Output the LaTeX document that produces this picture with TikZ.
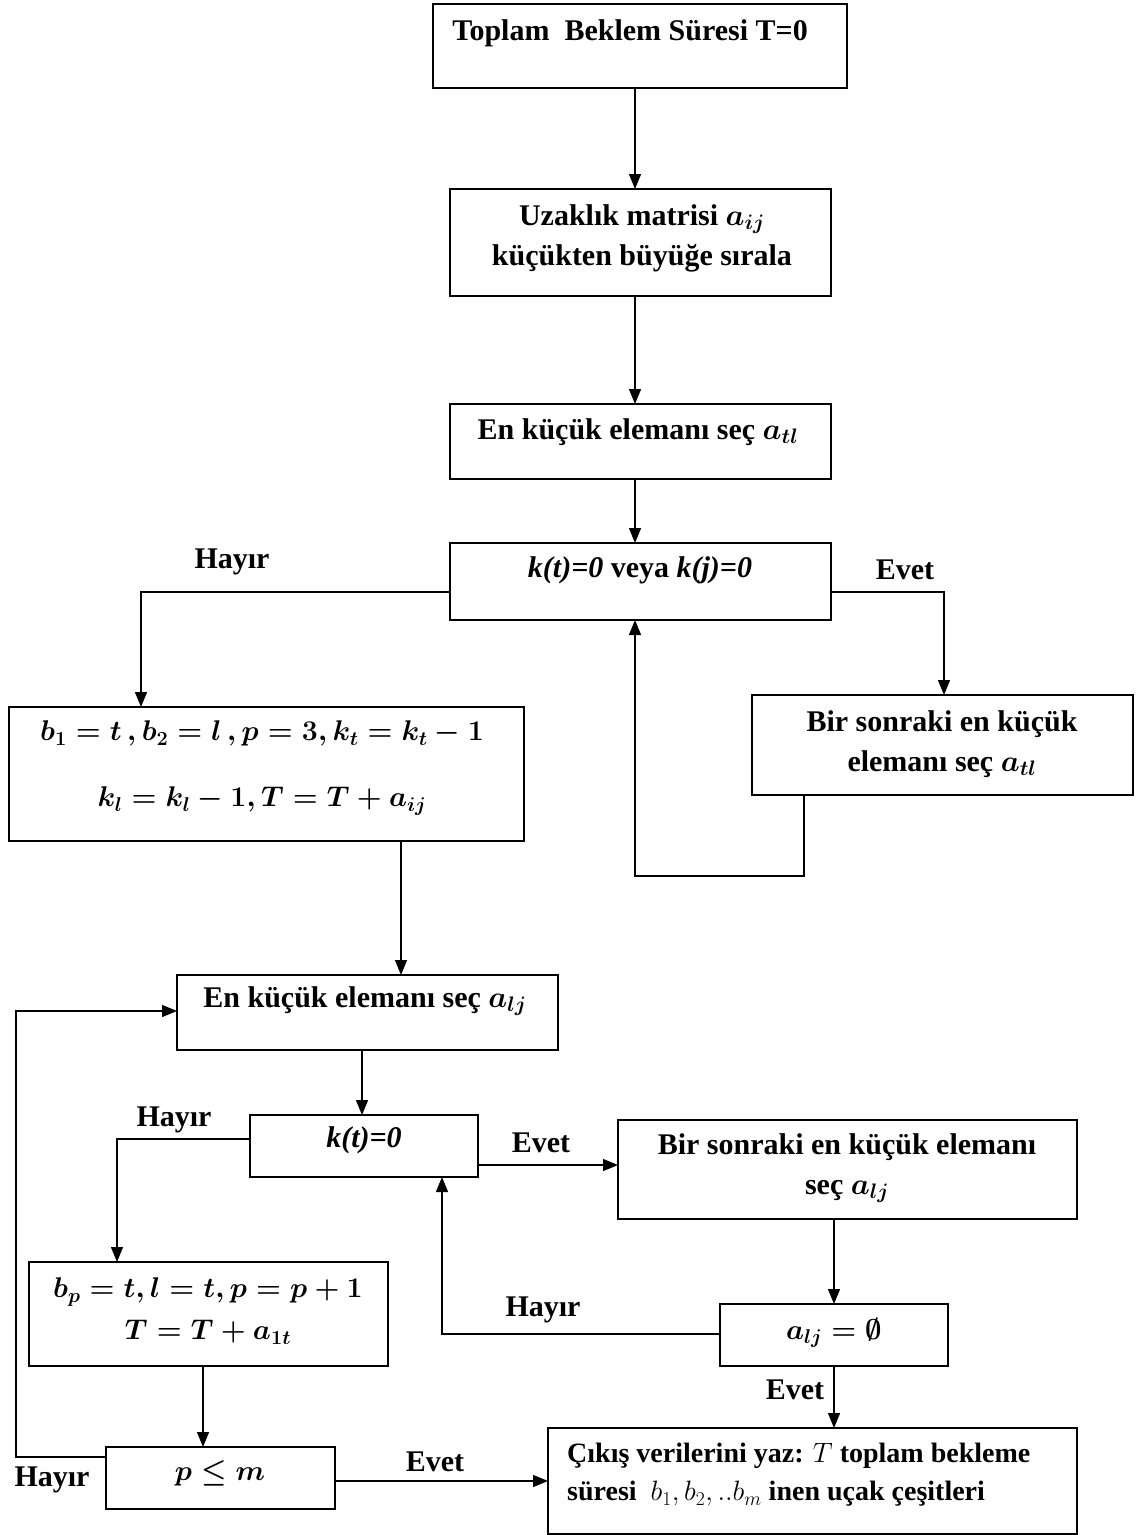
\RequirePackage{fix-cm}
\documentclass[tikz,border=0pt]{standalone}
\usepackage{amsmath}
\usepackage[no-math]{fontspec}
\setmainfont{Liberation Serif}
\usetikzlibrary{arrows.meta}
\begin{document}
\begin{tikzpicture}[x=1pt,y=-1pt,
 box/.style={draw, line width=1.3pt, inner sep=0pt, outer sep=0pt},
 txt/.style={inner sep=0pt, align=center, font=\fontsize{30}{40}\selectfont\bfseries\boldmath},
 mtxt/.style={inner sep=0pt, align=center, font=\fontsize{28.5}{42}\selectfont\bfseries\boldmath},
 otxt/.style={inner sep=0pt, align=left, font=\fontsize{28}{38}\selectfont\bfseries\boldmath},
 lbl/.style={inner sep=0pt, font=\fontsize{30}{34}\selectfont\bfseries},
 conn/.style={line width=1.3pt},
 arr/.style={conn, -{Triangle[length=15pt,width=12pt]}}
]
\useasboundingbox (0,0) rectangle (1145,1535);
% boxes
\node[box, minimum width=414pt, minimum height=84pt] (b1) at (640,46) {};
\node[box, minimum width=381pt, minimum height=107pt] (b2) at (640.5,242.5) {};
\node[box, minimum width=381pt, minimum height=75pt] (b3) at (640.5,441.5) {};
\node[box, minimum width=381pt, minimum height=77pt] (d1) at (640.5,581.5) {};
\node[box, minimum width=515pt, minimum height=134pt] (b5) at (266.5,774) {};
\node[box, minimum width=381pt, minimum height=100pt] (b6) at (942.5,745) {};
\node[box, minimum width=381pt, minimum height=75pt] (b7) at (367.5,1012.5) {};
\node[box, minimum width=228pt, minimum height=62pt] (d2) at (364,1146) {};
\node[box, minimum width=459pt, minimum height=99pt] (b9) at (847.5,1169.5) {};
\node[box, minimum width=359pt, minimum height=104pt] (b10) at (208.5,1314) {};
\node[box, minimum width=228pt, minimum height=62pt] (d3) at (834,1335) {};
\node[box, minimum width=229pt, minimum height=62pt] (d4) at (220.5,1478) {};
\node[box, minimum width=529pt, minimum height=106pt] (b13) at (812.5,1481) {};
% texts
\node[txt] (t1) at (630,33) {Toplam\hspace{0.5em}Beklem Süresi T=0};
\node[txt] (t2) at (642,238) {Uzaklık matrisi $a_{ij}$\\küçükten büyüğe sırala};
\node[txt] (t3) at (638,432) {En küçük elemanı seç $a_{tl}$};
\node[txt] (t4) at (640,570) {\textit{k(t)=0} veya \textit{k(j)=0}};
\node[mtxt] (t5) at (262,768) {$b_1 = t\,, b_2 = l\,, p = 3, k_t = k_t - 1$\\[24pt]$k_l = k_l - 1, T = T + a_{ij}$};
\node[txt] (t6) at (942,744) {Bir sonraki en küçük\\elemanı seç $a_{tl}$};
\node[txt] (t7) at (365,1001) {En küçük elemanı seç $a_{lj}$};
\node[txt] (t8) at (364,1140) {\textit{k(t)=0}};
\node[txt] (t9) at (847,1168) {Bir sonraki en küçük elemanı\\seç $a_{lj}$};
\node[mtxt] (t10) at (208,1311) {$b_p = t, l = t, p = p + 1$\\$T = T + a_{1t}$};
\node[mtxt] (t11) at (834,1333) {$a_{lj} = \emptyset$};
\node[mtxt] (t12) at (220,1473) {$p \le m$};
\node[otxt, anchor=west] (t13) at (567,1475) {Çıkış verilerini yaz: {\unboldmath$T$} toplam bekleme\\süresi \ {\unboldmath$b_1, b_2, ..b_m$} inen uçak çeşitleri};
% labels
\node[lbl] (l1) at (232,562) {Hayır};
\node[lbl] (l2) at (905,570) {Evet};
\node[lbl] (l3) at (174,1120) {Hayır};
\node[lbl] (l4) at (541,1143) {Evet};
\node[lbl] (l5) at (543,1310) {Hayır};
\node[lbl] (l6) at (795,1390) {Evet};
\node[lbl] (l7) at (435,1462) {Evet};
\node[lbl] (l8) at (52,1480) {Hayır};
% connectors
\draw[arr] (b1.south -| 635,0) -- (b2.north -| 635,0);
\draw[arr] (b2.south -| 635,0) -- (b3.north -| 635,0);
\draw[arr] (b3.south -| 635,0) -- (d1.north -| 635,0);
\draw[arr] (d1.west |- 0,592) -| (b5.north -| 141,0);
\draw[arr] (d1.east |- 0,592) -| (b6.north -| 944,0);
\draw[arr] (b6.south -| 804,0) -- ++(0,81) -| (d1.south -| 635,0);
\draw[arr] (b5.south -| 401,0) -- (b7.north -| 401,0);
\draw[arr] (b7.south -| 362,0) -- (d2.north -| 362,0);
\draw[arr] (d2.west |- 0,1139) -| (b10.north -| 117,0);
\draw[arr] (d2.east |- 0,1165) -- (b9.west |- 0,1165);
\draw[arr] (b9.south -| 834,0) -- (d3.north -| 834,0);
\draw[arr] (d3.west |- 0,1334) -| (d2.south -| 442,0);
\draw[arr] (d3.south -| 834,0) -- (b13.north -| 834,0);
\draw[arr] (b10.south -| 203,0) -- (d4.north -| 203,0);
\draw[arr] (d4.east |- 0,1481) -- (b13.west |- 0,1481);
\draw[arr] (d4.west |- 0,1457) -- ++(-90,0) |- (b7.west |- 0,1011);
\end{tikzpicture}
\end{document}
